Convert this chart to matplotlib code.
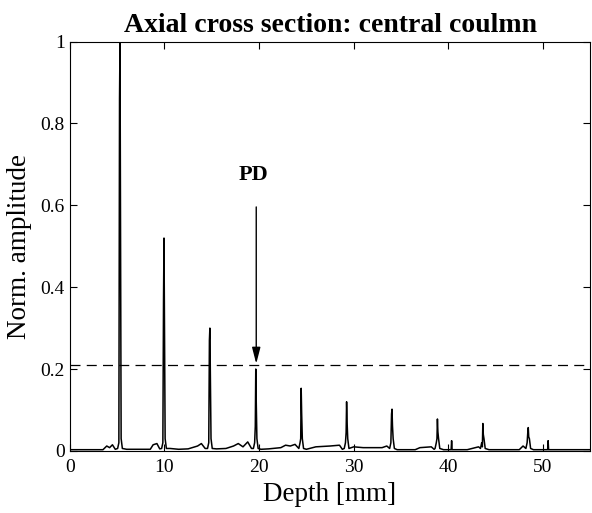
import numpy as np
import matplotlib
matplotlib.use("Agg")
import matplotlib.pyplot as plt

# peak data
peak_x = [5.3, 9.95, 14.8, 19.65, 24.45, 29.25, 34.05, 38.85, 43.65, 48.45]
peak_h = [1.0, 0.52, 0.30, 0.20, 0.153, 0.12, 0.102, 0.078, 0.067, 0.057]
shoulder_h = [0.86, 0.37, 0.27, 0.06, 0.03, 0.045, 0.09, 0.03, 0.01, 0.045]

# low level trace between the peaks
floor_x = [0.0, 3.5, 3.9, 4.2, 4.5, 4.8, 6.0, 8.5, 8.8, 9.2, 9.5, 10.6, 11.5, 12.5,
           13.5, 13.9, 14.3, 15.5, 16.5, 17.3, 17.8, 18.3, 18.8, 19.2, 20.2, 21.0,
           22.3, 22.8, 23.3, 23.8, 25.0, 26.0, 27.5, 28.5, 28.8, 30.0, 31.0, 33.0,
           33.5, 34.6, 36.5, 37.0, 38.2, 38.5, 39.5, 40.3, 40.35, 40.4, 42.0, 43.2,
           44.3, 47.5, 47.9, 49.0, 50.5, 50.55, 50.6, 55.0]
floor_y = [0.003, 0.003, 0.012, 0.008, 0.015, 0.004, 0.004, 0.004, 0.015, 0.018, 0.005,
           0.006, 0.004, 0.005, 0.012, 0.018, 0.006, 0.005, 0.006, 0.012, 0.018, 0.010,
           0.022, 0.006, 0.004, 0.005, 0.008, 0.014, 0.012, 0.016, 0.004, 0.010, 0.012,
           0.014, 0.004, 0.010, 0.008, 0.008, 0.012, 0.003, 0.003, 0.008, 0.010, 0.004,
           0.003, 0.003, 0.025, 0.003, 0.003, 0.010, 0.003, 0.003, 0.012, 0.003, 0.003,
           0.025, 0.003, 0.003]

threshold = 0.21
x_ticks = [0, 10, 20, 30, 40, 50]
y_ticks = [0, 0.2, 0.4, 0.6, 0.8, 1]
y_tick_labels = ["0", "0.2", "0.4", "0.6", "0.8", "1"]

# build the trace: floor points plus a narrow spike at every peak
xs = list(floor_x)
ys = list(floor_y)
for c, h, s in zip(peak_x, peak_h, shoulder_h):
    xs += [c - 0.25, c - 0.12, c - 0.05, c, c + 0.05, c + 0.12, c + 0.25]
    ys += [0.006, 0.02, s, h, 0.6 * h, 0.03, 0.006]
order = np.argsort(xs, kind="stable")
xs = np.array(xs)[order]
ys = np.array(ys)[order]

plt.rcParams["font.family"] = ["Liberation Serif", "DejaVu Serif"]

fig = plt.figure(figsize=(5.92, 5.13), dpi=100)
ax = fig.add_axes([0.118, 0.121, 0.879, 0.798])

ax.plot(xs, ys, color="black", lw=1.1)
ax.axhline(threshold, color="black", lw=0.9, ls=(0, (8, 5)))

ax.annotate("", xy=(19.7, 0.213), xytext=(19.7, 0.596),
            arrowprops=dict(arrowstyle="-|>,head_length=0.7,head_width=0.18",
                            color="black", lw=1.0,
                            mutation_scale=14, shrinkA=0, shrinkB=0))
ax.text(19.4, 0.674, "PD", ha="center", va="center", fontsize=16, fontweight="bold")

ax.set_xlim(0, 55)
ax.set_ylim(0, 1)
ax.set_xticks(x_ticks)
ax.set_yticks(y_ticks)
ax.set_yticklabels(y_tick_labels)
ax.tick_params(direction="in", top=True, right=True, length=5, labelsize=14)
ax.tick_params(axis="x", pad=6)

ax.set_title("Axial cross section: central coulmn", fontsize=20, fontweight="bold", pad=7)
ax.set_xlabel("Depth [mm]", fontsize=19.5, labelpad=4)
ax.set_ylabel("Norm. amplitude", fontsize=19.5, labelpad=6)

fig.savefig("out.png", dpi=100)
